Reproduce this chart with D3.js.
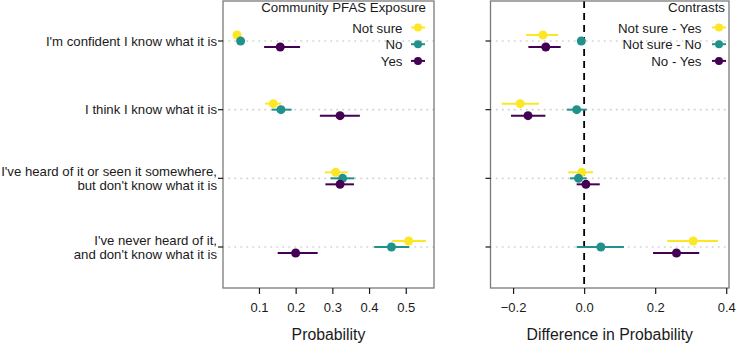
<!DOCTYPE html>
<html>
<head>
<meta charset="utf-8">
<script src="https://cdn.jsdelivr.net/npm/d3@7"></script>
<style>
  body { margin: 0; background: #fff; }
  text { font-family: "Liberation Sans", Arial, sans-serif; fill: #1a1a1a; }
</style>
</head>
<body>
<svg id="chart" width="737" height="346"></svg>
<script>
// categories (top to bottom)
var categories = [
  "I'm confident I know what it is",
  "I think I know what it is",
  "I've heard of it or seen it somewhere,\nbut don't know what it is",
  "I've never heard of it,\nand don't know what it is"
]

// left panel: predicted probability by exposure group
var exposureGroups = ["Not sure", "No", "Yes"]
var probEst = {
  "Not sure": [0.040, 0.139, 0.309, 0.508],
  "No":       [0.050, 0.160, 0.328, 0.461],
  "Yes":      [0.158, 0.321, 0.321, 0.200]
}
var probLo = {
  "Not sure": [0.036, 0.117, 0.280, 0.463],
  "No":       [0.045, 0.135, 0.295, 0.414],
  "Yes":      [0.114, 0.266, 0.281, 0.151]
}
var probHi = {
  "Not sure": [0.044, 0.160, 0.342, 0.555],
  "No":       [0.055, 0.189, 0.360, 0.509],
  "Yes":      [0.212, 0.375, 0.359, 0.260]
}

// right panel: contrasts
var contrasts = ["Not sure - Yes", "Not sure - No", "No - Yes"]
var diffEst = {
  "Not sure - Yes": [-0.116, -0.180, -0.007, 0.307],
  "Not sure - No":  [-0.008, -0.021, -0.016, 0.047],
  "No - Yes":       [-0.108, -0.158,  0.005, 0.260]
}
var diffLo = {
  "Not sure - Yes": [-0.164, -0.232, -0.045, 0.234],
  "Not sure - No":  [-0.013, -0.049, -0.040, -0.021],
  "No - Yes":       [-0.157, -0.206, -0.021, 0.194]
}
var diffHi = {
  "Not sure - Yes": [-0.073, -0.127, 0.025, 0.377],
  "Not sure - No":  [-0.003, 0.007, 0.007, 0.112],
  "No - Yes":       [-0.066, -0.109, 0.044, 0.324]
}

var probTicks = [0.1, 0.2, 0.3, 0.4, 0.5]
var diffTicks = [-0.2, 0.0, 0.2, 0.4]

var colors = ["#FDE725", "#21918C", "#440154"]

var svg = d3.select('#chart')
var top_ = 1, bottom_ = 288

var y = d3.scalePoint()
  .domain(categories)
  .range([41, 247])

// dodge: first series on top
var dodge = d3.scalePoint().domain([0, 1, 2]).range([-6, 6])

function drawPanel(cfg){
  var g = svg.append('g')
  var x = d3.scaleLinear().domain(cfg.domain).range([cfg.left, cfg.right])

  // dotted guide lines
  g.selectAll('.guide')
    .data(categories)
    .enter()
    .append('line')
    .attr('x1', cfg.left).attr('x2', cfg.right)
    .attr('y1', function(d){ return y(d) })
    .attr('y2', function(d){ return y(d) })
    .attr('stroke', '#cfcfcf')
    .attr('stroke-width', 1.6)
    .attr('stroke-dasharray', '0.5,5.5')
    .attr('stroke-linecap', 'round')

  if(cfg.zero){
    g.append('line')
      .attr('x1', x(0)).attr('x2', x(0))
      .attr('y1', top_).attr('y2', bottom_)
      .attr('stroke', '#000')
      .attr('stroke-width', 1.8)
      .attr('stroke-dasharray', '7,5')
  }

  // error bars + points
  cfg.series.forEach(function(s, si){
    var rows = categories.map(function(c, i){
      return { cat: c, est: cfg.est[s][i], lo: cfg.lo[s][i], hi: cfg.hi[s][i] }
    })
    var sg = g.append('g')
    sg.selectAll('line')
      .data(rows)
      .enter()
      .append('line')
      .attr('x1', function(d){ return x(d.lo) })
      .attr('x2', function(d){ return x(d.hi) })
      .attr('y1', function(d){ return y(d.cat) + dodge(si) })
      .attr('y2', function(d){ return y(d.cat) + dodge(si) })
      .attr('stroke', colors[si])
      .attr('stroke-width', 2)
    sg.selectAll('circle')
      .data(rows)
      .enter()
      .append('circle')
      .attr('cx', function(d){ return x(d.est) })
      .attr('cy', function(d){ return y(d.cat) + dodge(si) })
      .attr('r', 4.5)
      .attr('fill', colors[si])
  })

  // panel border
  g.append('rect')
    .attr('x', cfg.left).attr('y', top_)
    .attr('width', cfg.right - cfg.left)
    .attr('height', bottom_ - top_)
    .attr('fill', 'none')
    .attr('stroke', '#7a7a7a')
    .attr('stroke-width', 1.3)

  // x axis
  var xAxis = d3.axisBottom(x)
    .tickValues(cfg.ticks)
    .tickSize(6)
    .tickPadding(9)
    .tickFormat(d3.format('.1f'))
  var ax = g.append('g')
    .attr('transform', 'translate(0,' + bottom_ + ')')
    .call(xAxis)
  ax.select('.domain').remove()
  ax.selectAll('.tick line').attr('stroke', '#1a1a1a').attr('stroke-width', 1.2)
  ax.selectAll('.tick text')
    .style('font-family', '"Liberation Sans", Arial, sans-serif')
    .style('font-size', '13px')
    .attr('fill', '#1a1a1a')

  // y ticks
  g.selectAll('.ytick')
    .data(categories)
    .enter()
    .append('line')
    .attr('x1', cfg.left - 5).attr('x2', cfg.left)
    .attr('y1', function(d){ return y(d) })
    .attr('y2', function(d){ return y(d) })
    .attr('stroke', '#1a1a1a')
    .attr('stroke-width', 1.2)

  // axis title
  g.append('text')
    .attr('x', (cfg.left + cfg.right) / 2)
    .attr('y', 340)
    .attr('text-anchor', 'middle')
    .style('font-size', '15.8px')
    .text(cfg.title)

  // legend
  var lg = g.append('g')
  lg.append('text')
    .attr('x', cfg.right - cfg.legendPad)
    .attr('y', 12)
    .attr('text-anchor', 'end')
    .style('font-size', '13.3px')
    .text(cfg.legendTitle)
  cfg.series.forEach(function(s, si){
    var ly = 27.5 + si * 16.7
    lg.append('text')
      .attr('x', cfg.keyX - cfg.keyGap)
      .attr('y', ly + 5)
      .attr('text-anchor', 'end')
      .style('font-size', '13.3px')
      .text(s)
    lg.append('line')
      .attr('x1', cfg.keyX - 7).attr('x2', cfg.keyX + 7)
      .attr('y1', ly).attr('y2', ly)
      .attr('stroke', colors[si])
      .attr('stroke-width', 2)
    lg.append('circle')
      .attr('cx', cfg.keyX).attr('cy', ly)
      .attr('r', 4)
      .attr('fill', colors[si])
  })
  return x
}

drawPanel({
  left: 223, right: 434,
  domain: [0.002, 0.577],
  series: exposureGroups,
  est: probEst, lo: probLo, hi: probHi,
  ticks: probTicks,
  title: 'Probability',
  legendTitle: 'Community PFAS Exposure',
  legendPad: 8,
  keyX: 418, keyGap: 15.5
})

drawPanel({
  left: 490.5, right: 729,
  domain: [-0.2636, 0.4078],
  series: contrasts,
  est: diffEst, lo: diffLo, hi: diffHi,
  ticks: diffTicks,
  zero: true,
  title: 'Difference in Probability',
  legendTitle: 'Contrasts',
  legendPad: 4,
  keyX: 719, keyGap: 17.5
})

// category labels
var labels = svg.append('g')
categories.forEach(function(c){
  var lines = c.split('\n')
  var t = labels.append('text')
    .attr('text-anchor', 'end')
    .style('font-size', '13.2px')
  var y0 = y(c) + 4.7 - (lines.length - 1) * 7
  lines.forEach(function(l, i){
    t.append('tspan')
      .attr('x', 217)
      .attr('y', y0 + i * 14)
      .text(l)
  })
})
</script>
</body>
</html>
